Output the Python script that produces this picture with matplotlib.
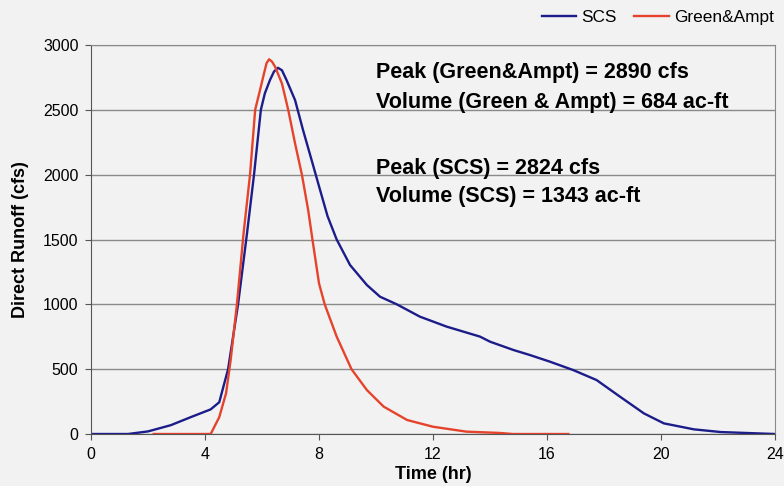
import numpy as np
import matplotlib
matplotlib.use('Agg')
import matplotlib.pyplot as plt

plt.rcParams['font.family'] = ['Liberation Sans', 'DejaVu Sans']

# SCS unit hydrograph result (hr, cfs)
scs_t = [0, 1.3, 2.0, 2.8, 3.5, 4.2, 4.5, 4.81, 5.16, 5.47, 5.72, 5.96, 6.1, 6.28,
         6.42, 6.56, 6.7, 6.86, 7.16, 7.44, 7.74, 8.04, 8.3, 8.62, 9.09, 9.68,
         10.14, 10.73, 11.54, 12.48, 13.65, 14.0, 14.82, 15.4, 16.1, 16.92, 17.74,
         18.56, 19.4, 20.1, 21.15, 22.1, 23.36, 24]
scs_q = [0, 0, 20, 68, 130, 190, 245, 500, 1000, 1540, 2000, 2500, 2627, 2730,
         2795, 2824, 2805, 2730, 2575, 2344, 2113, 1880, 1680, 1500, 1303, 1149,
         1059, 1000, 905, 828, 751, 712, 648, 609, 558, 493, 416,
         288, 159, 82, 36, 15, 5, 0]

# Green & Ampt infiltration result (hr, cfs)
ga_t = [2.2, 4.2, 4.5, 4.74, 4.9, 5.12, 5.35, 5.58, 5.76, 5.93, 6.07, 6.16, 6.25,
        6.35, 6.46, 6.7, 6.92, 7.16, 7.4, 7.62, 7.77, 8.0, 8.2, 8.62, 9.14, 9.68,
        10.27, 11.09, 12.0, 13.18, 14.35, 14.8, 16.75]
ga_q = [0, 0, 130, 315, 570, 1000, 1540, 2000, 2500, 2652, 2780, 2860, 2890,
        2872, 2832, 2703, 2500, 2241, 2000, 1727, 1500, 1162, 1000, 751, 500, 339,
        211, 108, 56, 18, 8, 0, 0]

notes = ['Peak (Green&Ampt) = 2890 cfs',
         'Volume (Green & Ampt) = 684 ac-ft',
         'Peak (SCS) = 2824 cfs',
         'Volume (SCS) = 1343 ac-ft']
note_y = [2790, 2560, 2050, 1835]

bg = '#f2f2f2'
fig = plt.figure(figsize=(7.84, 4.86), dpi=100, facecolor=bg)
ax = fig.add_axes([91/784, 52/486, 684/784, 389/486], facecolor=bg)

ax.plot(scs_t, scs_q, color='#1c1c8a', lw=1.7, label='SCS')
ax.plot(ga_t, ga_q, color='#e5432b', lw=1.7, label='Green&Ampt')

ax.set_xlim(0, 24)
ax.set_ylim(0, 3000)
ax.set_xticks(np.arange(0, 25, 4))
ax.set_yticks(np.arange(0, 3001, 500))
ax.yaxis.grid(True, color='#8a8a8a', lw=1)
ax.set_axisbelow(True)
for s in ['top', 'right']:
    ax.spines[s].set_color('#8a8a8a')
for s in ['left', 'bottom']:
    ax.spines[s].set_color('#555555')
ax.tick_params(axis='both', labelsize=11.5, length=4, color='#555555', pad=5)

ax.set_xlabel('Time (hr)', fontsize=13, fontweight='bold', labelpad=3)
ax.set_ylabel('Direct Runoff (cfs)', fontsize=13, fontweight='bold', labelpad=10)

for txt, y in zip(notes, note_y):
    ax.text(10.0, y, txt, fontsize=15.5, fontweight='bold', va='center', ha='left')

fig.legend(loc='upper right', bbox_to_anchor=(1.0, 1.0), ncol=2, frameon=False,
           fontsize=12.4, handlelength=2.0, columnspacing=1.0, handletextpad=0.3,
           borderaxespad=0.2)

fig.savefig('out.png', dpi=100, facecolor=bg)
